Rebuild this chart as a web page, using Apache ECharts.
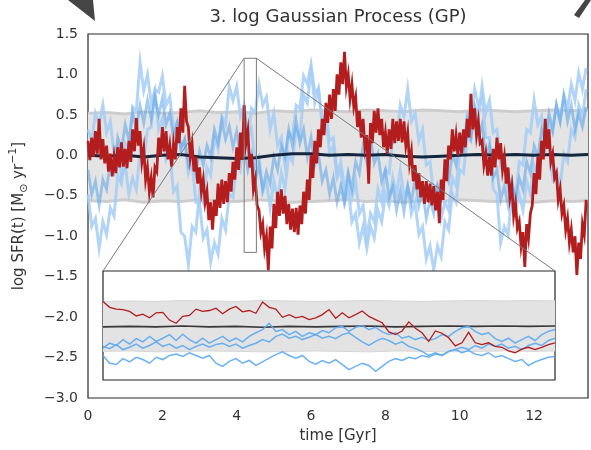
<!DOCTYPE html>
<html>
<head>
<meta charset="utf-8">
<script src="https://cdn.jsdelivr.net/npm/echarts@6/dist/echarts.min.js"></script>
<style>
  html, body { margin: 0; padding: 0; background: #fff; }
  #chart { width: 591px; height: 450px; }
</style>
</head>
<body>
<div id="chart"></div>
<script>
// ---- main panel data (time in Gyr, log SFR) ----
const redT = Array.from({ length: 269 }, (_, i) => +(i * 0.05).toFixed(2));
const blueT = Array.from({ length: 135 }, (_, i) => +(i * 0.1).toFixed(1));

// red draw, sampled every 0.05 Gyr
const redDraw = [
  0.18, -0.06, 0.22, -0.02, 0.3, 0.02, 0.45, -0.05, 0.2, -0.1,
  0.12, -0.2, 0.02, -0.26, -0.02, -0.22, 0.1, -0.15, 0.16, -0.14,
  0.08, -0.16, 0.18, -0.08, 0.32, 0.05, 0.46, 0.12, 0.3, -0.08,
  0.08, -0.3, -0.15, -0.45, -0.28, -0.52, -0.15, -0.2, 0.22, 0.0,
  0.35, 0.05, 0.3, -0.05, 0.12, -0.14, 0.14, -0.05, 0.35, 0.15,
  0.58, 0.28, 0.86, 0.42, 0.35, -0.02, 0.14, -0.2, -0.02, -0.35,
  -0.15, -0.45, -0.3, -0.58, -0.45, -0.8, -0.58, -0.92, -0.55, -0.75,
  -0.35, -0.65, -0.3, -0.6, -0.32, -0.58, -0.22, -0.45, -0.08, -0.3,
  0.1, -0.18, 0.28, -0.05, 0.62, 0.15, 0.3, -0.15, 0.02, -0.42,
  -0.3, -0.62, -0.68, -0.95, -0.85, -1.15, -1.0, -1.42, -0.88, -1.15,
  -0.6, -0.9, -0.45, -0.75, -0.42, -0.72, -0.5, -0.85, -0.6, -0.92,
  -0.66, -0.95, -0.65, -0.98, -0.62, -0.85, -0.45, -0.72, -0.3, -0.55,
  0.0, -0.28, 0.18, -0.1, 0.32, 0.1, 0.45, 0.25, 0.65, 0.4,
  0.75, 0.45, 0.82, 0.55, 1.0, 0.75, 1.15, 0.88, 1.28, 0.85,
  1.0, 0.7, 0.88, 0.6, 0.72, 0.35, 0.55, 0.22, 0.45, 0.1,
  0.25, -0.35, 0.4, 0.15, 0.55, 0.28, 0.58, 0.25, 0.45, 0.1,
  0.28, 0.02, 0.32, 0.08, 0.45, 0.15, 0.42, 0.18, 0.45, 0.16,
  0.42, 0.12, 0.28, -0.1, 0.05, -0.32, -0.12, -0.42, -0.22, -0.52,
  -0.32, -0.6, -0.32, -0.58, -0.35, -0.62, -0.38, -0.68, -0.45, -0.84,
  -0.3, -0.55, -0.05, -0.32, 0.12, -0.05, 0.32, 0.05, 0.25, 0.0,
  0.28, 0.02, 0.32, 0.1, 0.45, 0.22, 0.76, 0.32, 0.58, 0.25,
  0.42, 0.15, 0.18, -0.12, 0.02, -0.25, -0.02, -0.25, 0.08, -0.15,
  0.22, -0.05, 0.15, -0.18, -0.02, -0.35, -0.15, -0.52, -0.38, -0.75,
  -0.6, -0.9, -0.82, -1.12, -0.95, -1.38, -0.85, -1.02, -0.72, -0.62,
  -0.22, -0.48, -0.02, -0.3, 0.18, -0.05, 0.45, 0.08, 0.32, -0.08,
  0.02, -0.28, -0.22, -0.55, -0.42, -0.72, -0.62, -0.92, -0.78, -1.08,
  -0.92, -1.2, -1.0, -1.48, -1.08, -1.28, -0.85, -0.98, -0.55
];

// other prior draws, sampled every 0.1 Gyr
const blueDrawA = [
  -0.18, -0.48, -0.32, -0.62, -0.3, -0.42, -0.08, -0.2, 0.22, 0.08,
  0.38, 0.18, 0.52, 0.33, 0.62, 0.4, 0.68, 0.45, 0.72, 0.5,
  0.7, 0.38, 0.52, 0.22, 0.4, 0.08, 0.2, -0.12, 0.02, -0.22,
  0.05, -0.12, 0.12, -0.02, 0.32, 0.15, 0.42, 0.2, 0.36, 0.1,
  0.3, -0.02, 0.1, -0.18, 0.02, -0.32, -0.12, -0.42, -0.2, -0.35,
  -0.02, -0.18, 0.12, -0.02, 0.32, 0.12, 0.42, 0.15, 0.32, -0.02,
  0.22, -0.12, 0.02, -0.32, -0.18, -0.48, -0.28, -0.58, -0.38, -0.58,
  -0.22, -0.42, -0.08, -0.22, 0.12, -0.08, 0.22, -0.1, 0.02, -0.32,
  -0.18, -0.52, -0.38, -0.68, -0.45, -0.7, -0.38, -0.58, -0.28, -0.62,
  -0.42, -0.78, -0.55, -0.72, -0.38, -0.52, -0.18, -0.32, 0.02, -0.12,
  0.22, 0.08, 0.42, 0.22, 0.55, 0.22, 0.38, -0.02, 0.12, -0.28,
  -0.18, -0.55, -0.38, -0.62, -0.32, -0.55, -0.28, -0.42, -0.08, -0.22,
  0.12, -0.02, 0.32, 0.18, 0.52, 0.32, 0.62, 0.42, 0.72, 0.42,
  0.62, 0.32, 0.52, 0.35, 0.6
];

const blueDrawB = [
  -0.48, -0.88, -0.78, -1.15, -0.82, -0.98, -0.65, -0.75, -0.25, -0.35,
  0.15, 0.08, 0.6, 0.55, 1.15, 0.8, 1.0, 0.65, 0.8, 0.32,
  0.45, -0.05, 0.05, -0.45, -0.38, -0.95, -1.0, -1.35, -0.88, -0.95,
  -0.45, -0.58, -0.15, -0.25, 0.22, 0.08, 0.48, 0.38, 0.85, 0.68,
  0.85, 0.48, 0.62, 0.22, 0.32, -0.12, -0.02, -0.45, -0.32, -0.65,
  -0.32, -0.55, -0.22, -0.42, 0.02, -0.08, 0.32, 0.22, 0.75, 0.65,
  1.05, 0.65, 0.82, 0.42, 0.48, 0.02, 0.12, -0.28, -0.18, -0.58,
  -0.42, -0.82, -0.72, -1.08, -0.88, -1.15, -0.88, -1.02, -0.68, -0.82,
  -0.48, -0.62, -0.28, -0.48, -0.18, -0.52, -0.38, -0.72, -0.58, -0.98,
  -0.88, -1.28, -1.12, -1.42, -1.12, -1.25, -0.82, -0.92, -0.48, -0.58,
  -0.18, -0.22, 0.22, 0.18, 0.62, 0.48, 0.85, 0.52, 0.68, 0.28,
  0.32, -0.12, -0.02, -0.42, -0.32, -0.68, -0.48, -0.68, -0.32, -0.48,
  -0.12, -0.22, 0.18, 0.08, 0.42, 0.28, 0.62, 0.42, 0.75, 0.58,
  0.88, 0.68, 1.02, 0.82, 1.08
];

const blueDrawC = [
  0.32, 0.18, 0.52, 0.38, 0.62, 0.28, 0.42, 0.02, 0.12, -0.28,
  -0.12, -0.48, -0.28, -0.42, 0.02, -0.08, 0.32, 0.35, 0.82, 0.78,
  0.98, 0.62, 0.72, 0.32, 0.42, 0.08, 0.18, -0.22, -0.08, -0.58,
  -0.58, -1.02, -0.92, -1.32, -1.08, -1.22, -0.78, -0.92, -0.48, -0.52,
  -0.08, -0.18, 0.22, 0.18, 0.58, 0.52, 0.88, 0.62, 0.72, 0.32,
  0.52, 0.12, 0.22, -0.12, 0.28, 0.22, 0.62, 0.58, 0.98, 0.88,
  1.12, 0.78, 0.82, 0.38, 0.52, 0.18, 0.22, -0.22, -0.08, -0.42,
  -0.22, -0.52, -0.32, -0.72, -0.62, -1.02, -0.72, -0.82, -0.42, -0.58,
  -0.18, -0.22, 0.22, 0.18, 0.62, 0.48, 0.82, 0.42, 0.52, 0.18,
  0.32, -0.12, -0.08, -0.48, -0.38, -0.78, -0.58, -0.68, -0.28, -0.38,
  0.02, 0.02, 0.52, 0.48, 0.82, 0.62, 0.72, 0.22, 0.22, -0.42,
  -0.48, -1.08, -0.88, -0.98, -0.48, -0.52, -0.08, -0.12, 0.32, 0.28,
  0.68, 0.38, 0.48, 0.08, 0.12, -0.28, -0.18, -0.38, 0.02, -0.08,
  0.32, 0.22, 0.62, 0.48, 0.82
];

// GP mean and 1-sigma band, sampled coarser
const bandT = [0, 0.5, 1, 1.5, 2, 2.5, 3, 3.5, 4, 4.5, 5, 5.5, 6, 6.5, 7,
  7.5, 8, 8.5, 9, 9.5, 10, 10.5, 11, 11.5, 12, 12.5, 13, 13.45];
const meanDraw = [0.0, -0.01, 0.0, -0.02, 0.0, 0.01, -0.02, -0.03, -0.04, -0.03,
  0.0, 0.02, 0.02, 0.0, 0.01, 0.0, 0.01, -0.01, -0.02, -0.01,
  0.0, 0.01, 0.0, 0.01, 0.0, 0.01, 0.0, 0.01];
const bandUpper = [0.52, 0.53, 0.51, 0.54, 0.52, 0.53, 0.55, 0.53, 0.54, 0.52,
  0.55, 0.54, 0.56, 0.55, 0.54, 0.56, 0.55, 0.54, 0.56, 0.55,
  0.54, 0.56, 0.55, 0.54, 0.55, 0.56, 0.55, 0.56];
const bandLower = [-0.56, -0.57, -0.55, -0.58, -0.56, -0.57, -0.55, -0.56, -0.57, -0.55,
  -0.56, -0.58, -0.57, -0.56, -0.55, -0.57, -0.56, -0.58, -0.56, -0.57,
  -0.55, -0.56, -0.57, -0.56, -0.58, -0.56, -0.57, -0.56];

// zoom window shown in the inset
const zoomT = [4.2, 4.53];
const zoomY = [-1.2, 1.2];

// ---- inset data (index along the zoom window) ----
const insetIdx = Array.from({ length: 69 }, (_, i) => i);
const insetRed = [
  0.53, 0.40, 0.36, 0.35, 0.31, 0.21, 0.25, 0.17, 0.28, 0.29,
  0.12, 0.05, 0.20, 0.22, 0.36, 0.31, 0.33, 0.38, 0.26, 0.36,
  0.42, 0.30, 0.33, 0.27, 0.52, 0.40, 0.36, 0.18, 0.24, 0.17,
  0.20, 0.13, 0.17, 0.24, 0.35, 0.16, 0.28, 0.17, 0.24, 0.32,
  0.20, 0.13, 0.06, -0.14, -0.20, -0.12, 0.08, -0.06, -0.16, -0.35,
  -0.12, -0.17, -0.27, -0.45, -0.38, -0.15, -0.38, -0.42, -0.38, -0.46,
  -0.48, -0.56, -0.60, -0.52, -0.48, -0.53, -0.48, -0.42, -0.38
];
const insetBlue1 = [
  -0.5, -0.39, -0.44, -0.31, -0.41, -0.29, -0.36, -0.24, -0.35, -0.28,
  -0.2, -0.33, -0.19, -0.31, -0.39, -0.28, -0.39, -0.31, -0.24, -0.35,
  -0.28, -0.36, -0.24, -0.16, -0.09, 0.05, -0.13, -0.09, -0.2, -0.13,
  -0.24, -0.16, -0.2, -0.11, -0.16, -0.05, -0.02, -0.13, -0.04, 0.0,
  -0.09, -0.04, -0.14, -0.2, -0.16, -0.28, -0.24, -0.31, -0.26, -0.33,
  -0.29, -0.2, -0.24, -0.13, -0.05, -0.02, -0.13, -0.2, -0.16, -0.29,
  -0.35, -0.28, -0.39, -0.31, -0.24, -0.33, -0.2, -0.13, -0.09
];
const insetBlue2 = [
  -0.46, -0.51, -0.42, -0.53, -0.48, -0.41, -0.5, -0.44, -0.36, -0.46,
  -0.41, -0.5, -0.44, -0.53, -0.46, -0.41, -0.48, -0.42, -0.39, -0.46,
  -0.41, -0.5, -0.44, -0.39, -0.31, -0.36, -0.24, -0.19, -0.28, -0.24,
  -0.31, -0.26, -0.2, -0.28, -0.24, -0.29, -0.2, -0.16, -0.26, -0.36,
  -0.44, -0.35, -0.28, -0.33, -0.41, -0.36, -0.46, -0.51, -0.57, -0.66,
  -0.6, -0.66, -0.57, -0.53, -0.48, -0.53, -0.44, -0.5, -0.41, -0.46,
  -0.41, -0.5, -0.46, -0.53, -0.44, -0.39, -0.44, -0.33, -0.28
];
const insetBlue3 = [
  -0.66, -0.83, -0.86, -0.73, -0.8, -0.7, -0.75, -0.83, -0.7, -0.75,
  -0.66, -0.63, -0.68, -0.6, -0.66, -0.72, -0.66, -0.83, -0.9, -0.79,
  -0.73, -0.83, -0.77, -0.88, -0.8, -0.72, -0.64, -0.58, -0.66, -0.72,
  -0.66, -0.79, -0.85, -0.77, -0.83, -0.75, -0.86, -0.97, -0.9, -0.83,
  -0.88, -1.01, -0.9, -0.79, -0.73, -0.77, -0.7, -0.73, -0.66, -0.7,
  -0.63, -0.66, -0.57, -0.53, -0.6, -0.55, -0.63, -0.66, -0.6, -0.7,
  -0.66, -0.73, -0.79, -0.75, -0.88, -0.8, -0.75, -0.7, -0.68
];
const insetBandIdx = [0, 4, 8, 12, 16, 20, 24, 28, 32, 36, 40, 44, 48, 52, 56, 60, 64, 68];
const insetMean = [-0.03, -0.02, -0.03, -0.01, -0.03, -0.02, -0.04, -0.02, -0.03,
  -0.02, -0.01, -0.03, -0.02, -0.01, -0.02, -0.01, -0.02, -0.01];
const insetUpper = [0.53, 0.54, 0.53, 0.55, 0.54, 0.53, 0.55, 0.54, 0.53,
  0.54, 0.55, 0.54, 0.53, 0.54, 0.55, 0.54, 0.55, 0.54];
const insetLower = [-0.57, -0.56, -0.58, -0.57, -0.56, -0.57, -0.58, -0.57, -0.56,
  -0.57, -0.58, -0.56, -0.57, -0.58, -0.57, -0.56, -0.57, -0.56];

const titleText = "3. log Gaussian Process (GP)";

// ---- chart ----
const font = "DejaVu Sans";
const textColor = "#333";
const red = "#b41d1d";
const blueMid = "#5aa2ea";
const blueLight = "#a5cdf4";
const insetBlue = "#5aa8f2";

const pairs = (xs, ys) => ys.map((v, i) => [xs[i], v]);

function line(xs, ys, color, width, z, axis, opacity) {
  return {
    type: "line",
    xAxisIndex: axis,
    yAxisIndex: axis,
    data: pairs(xs, ys),
    symbol: "none",
    silent: true,
    z,
    lineStyle: { color, width, opacity: opacity ?? 1, join: "miter" },
  };
}

function band(xs, lo, hi, fill, z, axis) {
  return {
    type: "custom",
    xAxisIndex: axis,
    yAxisIndex: axis,
    data: [xs[0]],
    silent: true,
    z,
    renderItem: (params, api) => {
      const top = xs.map((x, i) => api.coord([x, hi[i]]));
      const bottom = xs.map((x, i) => api.coord([x, lo[i]])).reverse();
      return { type: "polygon", shape: { points: top.concat(bottom) }, style: { fill } };
    },
  };
}

const zoomBox = {
  type: "custom",
  xAxisIndex: 0,
  yAxisIndex: 0,
  data: [zoomT[0]],
  silent: true,
  z: 6,
  renderItem: (params, api) => {
    const a = api.coord([zoomT[0], zoomY[1]]);
    const b = api.coord([zoomT[1], zoomY[0]]);
    return {
      type: "rect",
      shape: { x: a[0], y: a[1], width: b[0] - a[0], height: b[1] - a[1] },
      style: { fill: "none", stroke: "#7a7a7a", lineWidth: 1 },
    };
  },
};

const fmt = v => v.toFixed(1).replace("-", "\u2212");

const chart = echarts.init(document.getElementById("chart"));

chart.setOption({
  animation: false,
  backgroundColor: "#fff",
  textStyle: { fontFamily: font },
  grid: [
    { left: 87, right: 3, top: 34, bottom: 52, show: true, backgroundColor: "transparent",
      borderColor: "#262626", borderWidth: 1.2, z: 0 },
    { left: 103, top: 271, width: 452, height: 109, show: true, backgroundColor: "#fff",
      borderColor: "#262626", borderWidth: 1.2, z: 20 },
  ],
  xAxis: [
    {
      type: "value", gridIndex: 0, min: 0, max: 13.45, interval: 2,
      name: "time [Gyr]", nameLocation: "middle", nameGap: 31,
      nameTextStyle: { fontFamily: font, fontSize: 15, color: textColor },
      axisLine: { show: false }, axisTick: { show: false }, splitLine: { show: false },
      axisLabel: { fontFamily: font, fontSize: 14, color: textColor, margin: 11, showMaxLabel: false },
    },
    { type: "value", gridIndex: 1, min: 0, max: 68, show: false, splitLine: { show: false } },
  ],
  yAxis: [
    {
      type: "value", gridIndex: 0, min: -3, max: 1.5, interval: 0.5,
      name: "{t|log SFR(t) [M}{s|\u2299}{t| yr}{p|\u22121}{t|]}",
      nameLocation: "middle", nameGap: 58, nameRotate: 90,
      nameTextStyle: {
        rich: {
          t: { fontFamily: font, fontSize: 15, color: textColor, lineHeight: 22, verticalAlign: "middle" },
          s: { fontFamily: font, fontSize: 11, color: textColor, lineHeight: 22, verticalAlign: "bottom" },
          p: { fontFamily: font, fontSize: 11, color: textColor, lineHeight: 22, verticalAlign: "top" },
        },
      },
      axisLine: { show: false }, axisTick: { show: false }, splitLine: { show: false },
      axisLabel: { fontFamily: font, fontSize: 14, color: textColor, margin: 10, formatter: fmt },
    },
    { type: "value", gridIndex: 1, min: -1.2, max: 1.2, show: false, splitLine: { show: false } },
  ],
  series: [
    band(bandT, bandLower, bandUpper, "#e4e4e4", 1, 0),
    line(bandT, bandUpper, "#cdcdcd", 3, 1, 0),
    line(bandT, bandLower, "#cdcdcd", 3, 1, 0),
    line(blueT, blueDrawB, blueLight, 3, 2, 0, 0.85),
    line(blueT, blueDrawC, blueLight, 3, 2, 0, 0.85),
    line(blueT, blueDrawA, blueMid, 2.8, 2, 0, 0.55),
    line(bandT, meanDraw, "#13263d", 3, 3, 0),
    line(redT, redDraw, red, 2.8, 4, 0),
    zoomBox,
    band(insetBandIdx, insetLower, insetUpper, "#e3e3e3", 21, 1),
    line(insetBandIdx, insetUpper, "#d6d6d6", 1, 21, 1),
    line(insetBandIdx, insetLower, "#d6d6d6", 1, 21, 1),
    line(insetBandIdx, insetMean, "#383838", 1.6, 22, 1),
    line(insetIdx, insetBlue1, insetBlue, 1.5, 23, 1, 0.9),
    line(insetIdx, insetBlue2, insetBlue, 1.5, 23, 1, 0.9),
    line(insetIdx, insetBlue3, insetBlue, 1.5, 23, 1, 0.9),
    line(insetIdx, insetRed, red, 1.3, 24, 1),
  ],
});

// connector lines from the zoom window to the inset corners
const zl = chart.convertToPixel({ gridIndex: 0 }, [zoomT[0], zoomY[1]]);
const zr = chart.convertToPixel({ gridIndex: 0 }, [zoomT[1], zoomY[1]]);
const il = chart.convertToPixel({ gridIndex: 1 }, [0, 1.2]);
const ir = chart.convertToPixel({ gridIndex: 1 }, [68, 1.2]);

chart.setOption({
  graphic: [
    { type: "text", x: 338, y: 8, z: 30,
      style: { text: titleText, font: "18px 'DejaVu Sans'", fill: textColor, align: "center", verticalAlign: "top" } },
    { type: "line", z: 30, shape: { x1: zl[0], y1: zl[1], x2: il[0], y2: il[1] },
      style: { stroke: "#7a7a7a", lineWidth: 1 } },
    { type: "line", z: 30, shape: { x1: zr[0], y1: zr[1], x2: ir[0], y2: ir[1] },
      style: { stroke: "#7a7a7a", lineWidth: 1 } },
    { type: "polygon", z: 30, shape: { points: [[68, 0], [93, 0], [95, 21]] }, style: { fill: "#454545" } },
    { type: "polygon", z: 30, shape: { points: [[585, 0], [591, 0], [579, 18], [574, 15]] }, style: { fill: "#454545" } },
  ],
});
</script>
</body>
</html>
